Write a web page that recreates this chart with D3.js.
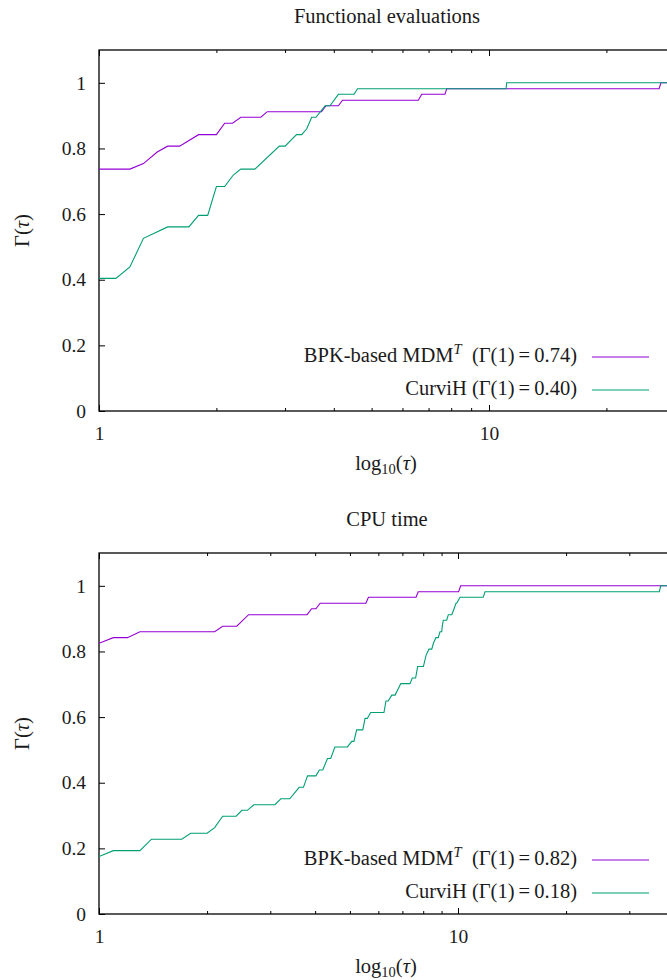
<!DOCTYPE html>
<html>
<head>
    <meta charset="utf-8">
    <title>Performance profiles</title>
    <style>
        body { margin: 0; background: #fff; }
        .frame { fill: none; stroke: #000; stroke-width: 1.3px; }
        .tick line { stroke: #000; stroke-width: 1px; }
        .profile { fill: none; stroke-width: 1.1px; }
    </style>
</head>
<body>
<script src="https://cdnjs.cloudflare.com/ajax/libs/d3/7.8.5/d3.min.js"></script>
<script>
    // Functional evaluations panel
    const fevBpkTau = [1, 1.20, 1.30, 1.41, 1.50, 1.61, 1.80, 2.00, 2.10, 2.20, 2.31, 2.60, 2.70, 3.72, 3.82, 4.11, 4.21, 6.59, 6.72, 7.71, 7.79, 27.3, 27.6, 40];
    const fevBpkGamma = [0.737, 0.737, 0.754, 0.789, 0.807, 0.807, 0.842, 0.842, 0.877, 0.877, 0.895, 0.895, 0.912, 0.912, 0.930, 0.930, 0.947, 0.947, 0.965, 0.965, 0.982, 0.982, 1, 1];
    const fevCurviTau = [1, 1.105, 1.20, 1.30, 1.50, 1.70, 1.80, 1.90, 2.00, 2.10, 2.21, 2.31, 2.51, 2.90, 3.00, 3.21, 3.31, 3.41, 3.51, 3.60, 3.80, 3.91, 4.11, 4.51, 4.60, 11.06, 11.1, 40];
    const fevCurviGamma = [0.404, 0.404, 0.439, 0.526, 0.561, 0.561, 0.596, 0.596, 0.684, 0.684, 0.719, 0.737, 0.737, 0.807, 0.807, 0.842, 0.842, 0.860, 0.895, 0.895, 0.930, 0.930, 0.965, 0.965, 0.982, 0.982, 1, 1];

    // CPU time panel
    const cpuBpkTau = [1, 1.096, 1.20, 1.30, 2.10, 2.21, 2.42, 2.61, 3.80, 3.91, 4.02, 4.13, 5.54, 5.63, 7.64, 7.75, 10.04, 10.17, 50];
    const cpuBpkGamma = [0.825, 0.842, 0.842, 0.860, 0.860, 0.877, 0.877, 0.912, 0.912, 0.930, 0.930, 0.947, 0.947, 0.965, 0.965, 0.982, 0.982, 1, 1];
    const cpuCurviTau = [1, 1.096, 1.30, 1.40, 1.70, 1.80, 2.00, 2.10, 2.21, 2.41, 2.50, 2.59, 2.70, 3.09, 3.21, 3.40, 3.61, 3.71, 3.81, 4.02,
        4.11, 4.20, 4.33, 4.42, 4.54, 4.92, 5.06, 5.13, 5.22, 5.43, 5.51, 5.59, 5.71, 6.22, 6.30, 6.39, 6.54, 6.68, 6.93, 7.35,
        7.46, 7.62, 7.72, 8.01, 8.15, 8.30, 8.45, 8.54, 8.68, 8.81, 8.91, 9.01, 9.04, 9.10, 9.30, 9.40, 9.61, 9.75, 9.87, 9.92,
        10.13, 11.76, 11.89, 36.37, 36.70, 50];
    const cpuCurviGamma = [0.175, 0.193, 0.193, 0.228, 0.228, 0.246, 0.246, 0.263, 0.298, 0.298, 0.316, 0.316, 0.333, 0.333, 0.351, 0.351, 0.386, 0.386, 0.421, 0.421,
        0.439, 0.439, 0.474, 0.474, 0.509, 0.509, 0.526, 0.526, 0.561, 0.561, 0.596, 0.596, 0.614, 0.614, 0.649, 0.649, 0.667, 0.667, 0.702, 0.702,
        0.719, 0.719, 0.754, 0.754, 0.789, 0.807, 0.807, 0.825, 0.842, 0.842, 0.860, 0.860, 0.877, 0.895, 0.895, 0.912, 0.912, 0.930, 0.947, 0.947,
        0.965, 0.965, 0.982, 0.982, 1, 1];

    const yTicks = [0, 0.2, 0.4, 0.6, 0.8, 1];
    const xMajorTicks = [1, 10];
    const xMinorTicks = [2, 3, 4, 5, 6, 7, 8, 9, 20, 30, 40];
    const seriesNames = ["BPK-based MDM", "CurviH"];
    const colors = ["#9400d3", "#009e73"];

    const FONT = "'Liberation Serif', 'DejaVu Serif', serif";
    const FS = 20.5;     // words
    const FS_TICK = 19.5; // numbers on the axes

    const svg = d3.select("body").append("svg")
        .attr("width", 667)
        .attr("height", 980);

    const panels = [
        {
            title: "Functional evaluations", titleY: 23,
            top: 50, bottom: 411, xTen: 489, xMax: 40,
            series: [[fevBpkTau, fevBpkGamma], [fevCurviTau, fevCurviGamma]],
            gamma1: ["0.74", "0.40"], legendY: 357
        },
        {
            title: "CPU time", titleY: 526,
            top: 553, bottom: 914, xTen: 458, xMax: 50,
            series: [[cpuBpkTau, cpuBpkGamma], [cpuCurviTau, cpuCurviGamma]],
            gamma1: ["0.82", "0.18"], legendY: 860
        }
    ];

    function label(sel, size) {
        return sel.attr("font-family", FONT).attr("font-size", size || FS).attr("fill", "#1a1a1a");
    }

    panels.forEach((p, pi) => {
        const x = d3.scaleLog().domain([1, 10]).range([99, p.xTen]);
        const y = d3.scaleLinear().domain([0, 1.1]).range([p.bottom, p.top]);
        const xRight = x(p.xMax);
        const g = svg.append("g");

        // title
        g.append("text")
            .attr("x", 387).attr("y", p.titleY)
            .attr("text-anchor", "middle")
            .call(label)
            .text(p.title);

        // clip for curves
        g.append("clipPath").attr("id", "clip" + pi)
            .append("rect")
            .attr("x", x(1)).attr("y", y(1.1))
            .attr("width", xRight - x(1)).attr("height", y(0) - y(1.1));

        // y axis (ticks inside)
        const yAxis = g.append("g")
            .attr("transform", `translate(${x(1)},0)`)
            .call(d3.axisLeft(y).tickValues(yTicks).tickSize(-6).tickPadding(13)
                .tickFormat(d => d3.format("~g")(d)));
        yAxis.select(".domain").remove();
        yAxis.selectAll("text").call(label, FS_TICK);

        // bottom x axis, major + minor ticks
        const xAxis = g.append("g")
            .attr("transform", `translate(0,${y(0)})`)
            .call(d3.axisBottom(x).tickValues(xMajorTicks).tickSize(-6).tickPadding(15)
                .tickFormat(d3.format("d")));
        xAxis.select(".domain").remove();
        xAxis.selectAll("text").call(label, FS_TICK);

        const xMinor = g.append("g")
            .attr("transform", `translate(0,${y(0)})`)
            .call(d3.axisBottom(x).tickValues(xMinorTicks).tickSize(-3).tickFormat(""));
        xMinor.select(".domain").remove();

        // mirrored ticks on top
        const xTop = g.append("g")
            .attr("transform", `translate(0,${y(1.1)})`)
            .call(d3.axisTop(x).tickValues(xMajorTicks).tickSize(-6).tickFormat(""));
        xTop.select(".domain").remove();
        const xTopMinor = g.append("g")
            .attr("transform", `translate(0,${y(1.1)})`)
            .call(d3.axisTop(x).tickValues(xMinorTicks).tickSize(-3).tickFormat(""));
        xTopMinor.select(".domain").remove();

        // frame
        g.append("rect").attr("class", "frame")
            .attr("x", x(1)).attr("y", y(1.1))
            .attr("width", xRight - x(1)).attr("height", y(0) - y(1.1));

        // axis labels
        const yl = g.append("text")
            .attr("transform", `translate(29,${(y(0) + y(1.1)) / 2}) rotate(-90)`)
            .attr("text-anchor", "middle")
            .call(label);
        yl.append("tspan").text("Γ(");
        yl.append("tspan").attr("font-style", "italic").text("τ");
        yl.append("tspan").text(")");

        const xl = g.append("text")
            .attr("x", 386).attr("y", y(0) + 59)
            .attr("text-anchor", "middle")
            .call(label);
        xl.append("tspan").text("log");
        xl.append("tspan").attr("font-size", 14.5).attr("dy", 4).text("10");
        xl.append("tspan").attr("dy", -4).text("(");
        xl.append("tspan").attr("font-style", "italic").text("τ");
        xl.append("tspan").text(")");

        // curves
        const line = d3.line().x(d => x(d[0])).y(d => y(d[1]));
        p.series.forEach((s, si) => {
            const pts = s[0].map((t, k) => [t, s[1][k]]);
            g.append("path").attr("class", "profile")
                .attr("clip-path", `url(#clip${pi})`)
                .attr("stroke", colors[si])
                .attr("d", line(pts));
        });

        // legend
        seriesNames.forEach((name, si) => {
            const ly = p.legendY + si * 33;
            const t = g.append("text")
                .attr("x", 577).attr("y", ly + 5)
                .attr("text-anchor", "end")
                .call(label);
            t.append("tspan").text(name);
            if (si === 0) {
                t.append("tspan").attr("font-style", "italic").attr("font-size", 14.5)
                    .attr("dy", -8).text("T");
                t.append("tspan").attr("dy", 8).text(`\u2002(Γ(1)\u2009=\u2009${p.gamma1[si]})`);
            } else {
                t.append("tspan").text(` (Γ(1)\u2009=\u2009${p.gamma1[si]})`);
            }
            g.append("line")
                .attr("x1", 592).attr("x2", 649)
                .attr("y1", ly).attr("y2", ly)
                .attr("stroke", colors[si]).attr("stroke-width", 1.1);
        });
    });
</script>
</body>
</html>
